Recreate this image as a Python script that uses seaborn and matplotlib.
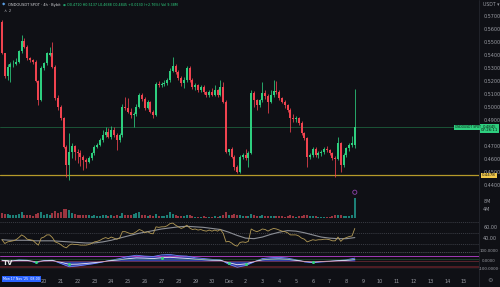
import numpy as np
import pandas as pd
import matplotlib
matplotlib.use("Agg")
import matplotlib.pyplot as plt
import seaborn as sns

# ---------------- data ----------------
opens = [0.5656,0.5413,0.5239,0.5310,0.5328,0.5331,0.5349,0.5431,0.5510,0.5464,
         0.5375,0.5362,0.5349,0.5200,0.5054,0.5298,0.5336,0.5400,0.5413,0.5310,
         0.5069,0.5002,0.4913,0.4695,0.4554,0.4654,0.4700,0.4654,0.4646,0.4616,
         0.4593,0.4580,0.4606,0.4644,0.4695,0.4708,0.4746,0.4785,0.4810,0.4772,
         0.4823,0.4785,0.4746,0.4785,0.5002,0.4995,0.4964,0.4939,0.4946,0.5002,
         0.5092,0.5062,0.4992,0.5039,0.4962,0.4939,0.5177,0.5169,0.5177,0.5182,
         0.5208,0.5279,0.5318,0.5272,0.5221,0.5182,0.5208,0.5298,0.5208,0.5156,
         0.5169,0.5131,0.5156,0.5118,0.5092,0.5118,0.5092,0.5131,0.5092,0.5156,
         0.5041,0.4656,0.4675,0.4618,0.4541,0.4503,0.4618,0.4631,0.4606,0.4649,
         0.5106,0.5054,0.5016,0.5054,0.5106,0.5085,0.5041,0.5092,0.5125,0.5118,
         0.5067,0.5041,0.5016,0.4977,0.4913,0.4908,0.4915,0.4875,0.4798,0.4760,
         0.4618,0.4631,0.4675,0.4631,0.4646,0.4654,0.4675,0.4669,0.4644,0.4606,
         0.4600,0.4721,0.4554,0.4631,0.4683,0.4708,0.4710]
highs = [0.5669,0.5415,0.5331,0.5346,0.5362,0.5377,0.5438,0.5554,0.5531,0.5477,
         0.5385,0.5369,0.5362,0.5208,0.5315,0.5346,0.5423,0.5462,0.5502,0.5323,
         0.5092,0.5016,0.4923,0.4708,0.4798,0.4723,0.4708,0.4677,0.4669,0.4631,
         0.4608,0.4623,0.4654,0.4708,0.4723,0.4762,0.4823,0.4846,0.4838,0.4854,
         0.4846,0.4800,0.4800,0.5023,0.5077,0.5069,0.4992,0.4962,0.5023,0.5108,
         0.5108,0.5077,0.5054,0.5046,0.4977,0.5192,0.5200,0.5192,0.5208,0.5223,
         0.5300,0.5387,0.5331,0.5285,0.5239,0.5231,0.5315,0.5315,0.5223,0.5185,
         0.5177,0.5169,0.5169,0.5123,0.5131,0.5146,0.5169,0.5139,0.5208,0.5192,
         0.5054,0.4677,0.4690,0.4631,0.4554,0.4631,0.4646,0.4675,0.4662,0.5131,
         0.5123,0.5062,0.5062,0.5195,0.5131,0.5100,0.5131,0.5208,0.5200,0.5131,
         0.5077,0.5054,0.5023,0.4992,0.4946,0.4931,0.4923,0.4890,0.4808,0.4770,
         0.4646,0.4690,0.4690,0.4660,0.4669,0.4690,0.4700,0.4677,0.4654,0.4623,
         0.4772,0.4731,0.4646,0.4690,0.4720,0.4780,0.5137]
lows = [0.5408,0.5223,0.5208,0.5192,0.5308,0.5323,0.5339,0.5415,0.5454,0.5362,
        0.5346,0.5331,0.5192,0.5016,0.5046,0.5285,0.5323,0.5392,0.5300,0.5054,
        0.4977,0.4900,0.4685,0.4464,0.4439,0.4608,0.4593,0.4570,0.4546,0.4516,
        0.4531,0.4570,0.4593,0.4631,0.4685,0.4700,0.4731,0.4770,0.4762,0.4754,
        0.4770,0.4669,0.4731,0.4770,0.4977,0.4954,0.4915,0.4846,0.4931,0.4992,
        0.5046,0.4977,0.4985,0.4954,0.4915,0.4931,0.5154,0.5154,0.5162,0.5169,
        0.5192,0.5269,0.5254,0.5208,0.5162,0.5146,0.5192,0.5192,0.5139,0.5131,
        0.5116,0.5116,0.5100,0.5077,0.5077,0.5085,0.5085,0.5077,0.5085,0.5031,
        0.4644,0.4631,0.4610,0.4516,0.4490,0.4490,0.4600,0.4593,0.4541,0.4641,
        0.5002,0.4977,0.5000,0.5039,0.5062,0.4954,0.5031,0.5077,0.5100,0.5054,
        0.5031,0.4992,0.4962,0.4810,0.4885,0.4885,0.4862,0.4785,0.4746,0.4541,
        0.4600,0.4616,0.4616,0.4610,0.4623,0.4640,0.4654,0.4631,0.4593,0.4464,
        0.4593,0.4503,0.4541,0.4616,0.4662,0.4690,0.4688]
closes = [0.5413,0.5239,0.5310,0.5328,0.5331,0.5349,0.5431,0.5510,0.5464,0.5375,
          0.5362,0.5349,0.5200,0.5054,0.5298,0.5336,0.5413,0.5415,0.5310,0.5069,
          0.5002,0.4913,0.4695,0.4554,0.4654,0.4700,0.4654,0.4646,0.4616,0.4593,
          0.4580,0.4606,0.4644,0.4695,0.4708,0.4746,0.4785,0.4810,0.4772,0.4823,
          0.4785,0.4746,0.4785,0.5002,0.4995,0.4964,0.4939,0.4946,0.5002,0.5092,
          0.5062,0.4992,0.5039,0.4962,0.4939,0.5177,0.5169,0.5177,0.5182,0.5208,
          0.5279,0.5318,0.5272,0.5221,0.5182,0.5208,0.5298,0.5208,0.5156,0.5169,
          0.5131,0.5156,0.5118,0.5092,0.5118,0.5092,0.5131,0.5092,0.5156,0.5041,
          0.4656,0.4675,0.4618,0.4541,0.4503,0.4618,0.4631,0.4606,0.4649,0.5106,
          0.5054,0.5016,0.5054,0.5106,0.5085,0.5041,0.5092,0.5125,0.5118,0.5067,
          0.5041,0.5016,0.4977,0.4913,0.4908,0.4915,0.4875,0.4798,0.4760,0.4618,
          0.4631,0.4675,0.4631,0.4646,0.4654,0.4675,0.4669,0.4644,0.4606,0.4600,
          0.4721,0.4554,0.4631,0.4683,0.4708,0.4720,0.4845]
volumes = [2.2,2.0,1.8,1.5,1.4,1.3,1.8,2.6,1.6,1.5,1.2,1.1,1.8,2.4,2.8,1.6,1.8,1.4,2.2,3.2,
           2.4,2.6,4.0,4.2,3.8,2.4,1.8,1.4,1.5,1.3,1.6,1.2,1.0,1.2,0.9,1.0,1.3,1.2,1.0,1.4,
           1.0,1.6,1.1,2.2,1.4,1.3,1.2,2.0,2.4,2.6,1.3,1.5,1.0,1.2,1.0,2.0,0.9,0.8,0.8,1.2,
           3.0,1.8,1.2,1.0,1.1,1.0,1.6,1.3,1.1,0.7,0.7,0.6,0.8,0.7,0.6,0.7,0.8,0.7,0.9,1.3,
           3.0,1.2,1.5,1.8,1.3,1.4,0.8,0.9,1.0,2.0,1.4,1.0,0.9,1.3,1.0,1.1,0.9,1.0,0.8,0.9,
           0.8,0.7,0.8,1.4,0.8,0.7,0.8,1.0,1.2,1.6,0.9,1.0,0.8,0.7,0.6,0.7,0.6,0.7,0.9,1.3,
           1.6,1.4,1.1,1.0,0.9,1.2,9.5]
rsi = [37,30,33,34,35,37,41,46,43,38,37,36,31,27,40,42,46,46,41,33,
       31,28,24,22,27,29,28,28,27,27,27,28,30,33,34,36,39,41,39,42,
       40,38,40,52,52,50,48,49,52,56,54,50,52,49,48,61,60,61,61,63,
       67,68,64,61,58,60,64,59,56,57,55,56,54,53,55,53,55,53,56,49,
       33,34,31,27,25,32,33,32,34,57,54,52,54,57,56,53,56,58,57,55,
       53,52,50,46,46,46,44,40,38,33,35,37,36,37,37,38,38,37,35,35,
       42,34,39,41,43,44,58]
# smoothed RSI average, one value every 3 candles
rsi_ma = [37,36,36,36,35,35,35,34,33,32,31,31,33,36,40,44,48,51,54,57,59,61,
          62,61,60,58,56,51,45,40,39,42,47,51,54,53,50,46,42,40,39,39,41]
# oscillator pane, one value every 3 candles
osc_wave = [10,-5,15,10,-20,5,10,-30,-70,-60,-45,-30,-10,10,30,55,70,60,55,75,80,65,
            60,40,30,20,15,-40,-75,-55,-10,30,40,45,35,15,-10,-20,-10,-5,5,15,35]
osc_line = [5,0,8,6,-8,2,6,-15,-40,-38,-30,-20,-8,5,15,28,38,35,30,40,45,38,
            32,22,16,10,8,-20,-45,-35,-8,15,22,25,20,8,-5,-12,-6,-2,3,8,18]
price_ticks = [0.57,0.56,0.55,0.54,0.53,0.52,0.51,0.50,0.49,0.47,0.46,0.45,0.44]
first_candle = "2025-11-17 12:00"
last_price = 0.4845
level_line = 0.4478

# ---------------- style ----------------
BG = "#0f1015"
UP = "#2ecf7f"
DN = "#f0434f"
TXT = "#9a9ca3"
sns.set_theme(style="dark", rc={"figure.facecolor": BG, "axes.facecolor": BG,
                                "axes.edgecolor": BG, "text.color": TXT,
                                "xtick.color": TXT, "ytick.color": TXT})
plt.rcParams["font.family"] = ["DejaVu Sans"]

W, H = 500, 287
fig = plt.figure(figsize=(W / 100, H / 100), dpi=100)

def rect(x0, y0, x1, y1):
    return [x0 / W, 1 - y1 / H, (x1 - x0) / W, (y1 - y0) / H]

n = len(closes)
times = pd.date_range(first_candle, periods=n, freq="4h")
df = pd.DataFrame({"x": np.arange(n), "open": opens, "high": highs, "low": lows,
                   "close": closes, "volume": volumes, "rsi": rsi})
df["up"] = df["close"] >= df["open"]
step = 2.8
XLIM = (-2 / step, (479 - 2) / step)

# ---------------- main price pane ----------------
ax = fig.add_axes(rect(0, 0, 479, 220))
ax.set_xlim(*XLIM)
ytop = 0.5823
ax.set_ylim(ytop - 220 * 0.000769, ytop)
cols = np.where(df["up"], UP, DN)
ax.vlines(df["x"], df["low"], df["high"], colors=cols, lw=0.55, zorder=2)
body = (df["close"] - df["open"]).abs().clip(lower=0.0004)
ax.bar(df["x"], body, bottom=df[["open", "close"]].min(axis=1), width=0.66,
       color=cols, linewidth=0, zorder=3)
ax.axhline(last_price, color="#1d5e3c", lw=0.6, zorder=1)
ax.axhline(level_line, color="#b69a2a", lw=0.9, zorder=1)
ax.set_yticks(price_ticks)
ax.set_yticklabels([f"{p:.4f}" for p in price_ticks])
ax.yaxis.tick_right()
ax.tick_params(axis="y", length=0, pad=3, labelsize=3.5, colors=TXT)
ax.set_xticks([])
ax.grid(False)

# ---------------- volume overlay ----------------
axv = fig.add_axes(rect(0, 185, 479, 218))
axv.patch.set_alpha(0)
axv.set_xlim(*XLIM)
axv.set_ylim(0, 15.5)
vcols = np.where(df["up"], "#1d8077", "#9b3540")
axv.bar(df["x"], df["volume"], width=0.7, color=vcols, linewidth=0)
axv.scatter([df["x"].iloc[-1]], [df["volume"].iloc[-1] + 2.6], s=9,
            facecolors="none", edgecolors="#8e44ad", linewidths=0.6)
axv.set_yticks([4, 8])
axv.set_yticklabels(["4M", "8M"])
axv.yaxis.tick_right()
axv.tick_params(axis="y", length=0, pad=3, labelsize=3.5, colors=TXT)
axv.set_xticks([])
for s in axv.spines.values():
    s.set_visible(False)

# ---------------- RSI pane ----------------
axr = fig.add_axes(rect(0, 220, 479, 252))
axr.set_xlim(*XLIM)
axr.set_ylim(14.2, 73.7)
for lvl in (70, 50, 30):
    axr.axhline(lvl, color="#4a4d56", lw=0.5, ls=(0, (1.5, 1.5)))
ma_df = pd.DataFrame({"x": np.arange(0, n, 3)[:len(rsi_ma)], "ma": rsi_ma})
sns.lineplot(data=ma_df, x="x", y="ma", ax=axr, color="#8c8f96", lw=0.8)
sns.lineplot(data=df, x="x", y="rsi", ax=axr, color="#b39a56", lw=0.6)
axr.set_yticks([60, 40])
axr.set_yticklabels(["60.00", "40.00"])
axr.yaxis.tick_right()
axr.tick_params(axis="y", length=0, pad=3, labelsize=3.5, colors=TXT)
axr.set_xticks([])
axr.set_xlabel("")
axr.set_ylabel("")

# ---------------- oscillator pane ----------------
axo = fig.add_axes(rect(0, 250, 479, 268))
axo.set_xlim(*XLIM)
axo.set_ylim(-85, 134)
osc_df = pd.DataFrame({"x": np.arange(0, n, 3)[:len(osc_wave)], "wave": osc_wave,
                       "line": osc_line})
axo.axhline(110, color="#6a6d75", lw=0.5, ls=(0, (1.5, 1.5)))
axo.axhline(62, color="#a23bb8", lw=0.7)
axo.axhline(-78, color="#5a1f26", lw=1.2)
axo.fill_between(osc_df["x"], 0, osc_df["wave"], color="#3d4fd6", alpha=0.75, lw=0)
sns.lineplot(data=osc_df, x="x", y="wave", ax=axo, color="#6f86ff", lw=0.6)
sns.lineplot(data=osc_df, x="x", y="line", ax=axo, color="#e8e8ef", lw=0.6)
axo.axhline(0, color="#c2434f", lw=0.4, alpha=0.7)
axo.axhline(30, color="#2c8a4a", lw=0.4, alpha=0.7)
dots = osc_df.iloc[[4, 8, 19, 27, 29, 37]]
axo.scatter(dots["x"], dots["line"], s=1.5, color="#35d07f", zorder=5)
axo.set_xlabel("")
axo.set_ylabel("")
axo.set_yticks([])
day_ticks = pd.date_range("2025-11-20", "2025-12-15", freq="D")
tick_pos = [(d - times[0]) / pd.Timedelta("4h") for d in day_ticks]
tick_lab = ["Dec" if d.day == 1 else str(d.day) for d in day_ticks]
axo.set_xticks(tick_pos)
axo.set_xticklabels(tick_lab)
axo.tick_params(axis="x", length=0, pad=8, labelsize=3.5, colors=TXT)
axo.text(0.006, 0.12, "TV", transform=axo.transAxes, fontsize=5, weight="bold",
         color="#e6e6e6", va="bottom", ha="left")

for a in (ax, axr, axo):
    for s in a.spines.values():
        s.set_visible(False)

# ---------------- right axis separator & labels ----------------
fig.add_artist(plt.Line2D([479 / W, 479 / W], [0, 1], color="#24262d", lw=0.6))
fig.add_artist(plt.Line2D([0, 1], [1 - 268 / H, 1 - 268 / H], color="#1c1e24", lw=0.5))

def ftext(x, y, s, **kw):
    fig.text(x / W, 1 - y / H, s, **kw)

ftext(483, 5, "USDT ▾", fontsize=3.3, color=TXT, va="center")
ftext(489.5, 128.5, "0.4845\n07:26:11", fontsize=2.8, color="#0b1a10", va="center",
      ha="center", linespacing=0.9,
      bbox=dict(boxstyle="square,pad=0.25", fc="#2ecf7f", ec="none"))
ftext(467.5, 127.5, "ONDOUSDT SPOT", fontsize=2.2, color="#0b1a10", va="center",
      ha="center", bbox=dict(boxstyle="square,pad=0.25", fc="#2ecf7f", ec="none"))
ftext(489, 175.5, "0.4478", fontsize=2.9, color="#111", va="center", ha="center",
      bbox=dict(boxstyle="square,pad=0.2", fc="#f2c94c", ec="none"))
ftext(489, 250.5, "100.0000", fontsize=2.8, color=TXT, va="center", ha="center")
ftext(489, 260.5, "0.0000", fontsize=2.8, color=TXT, va="center", ha="center")
ftext(489, 269.5, "-100.0000", fontsize=2.8, color=TXT, va="center", ha="center")
ftext(490, 280, "⚙", fontsize=4.5, color="#7a7c83", va="center", ha="center")
ftext(3.0, 279, "Mon 17 Nov '25  08:00", fontsize=2.35, color="#ffffff", va="center",
      ha="left", bbox=dict(boxstyle="square,pad=0.4", fc="#2962ff", ec="none"))

# ---------------- header ----------------
ftext(2, 5, "◆", fontsize=3.2, color="#5aa0e6", va="center")
ftext(7.5, 5, "ONDOUSDT SPOT · 4h · Bybit", fontsize=2.6, color="#d6d7db", va="center")
ftext(63, 5, "●", fontsize=2.4, color="#1f9d6a", va="center")
ftext(67, 5, "O0.4710 H0.5137 L0.4688 C0.4845 +0.0130 (+2.76%) Vol 9.38M",
      fontsize=2.45, color="#2ecf7f", va="center")
ftext(4, 11, "∧ 2", fontsize=3.2, color=TXT, va="center")

fig.savefig("out.png", dpi=100, facecolor=BG)
